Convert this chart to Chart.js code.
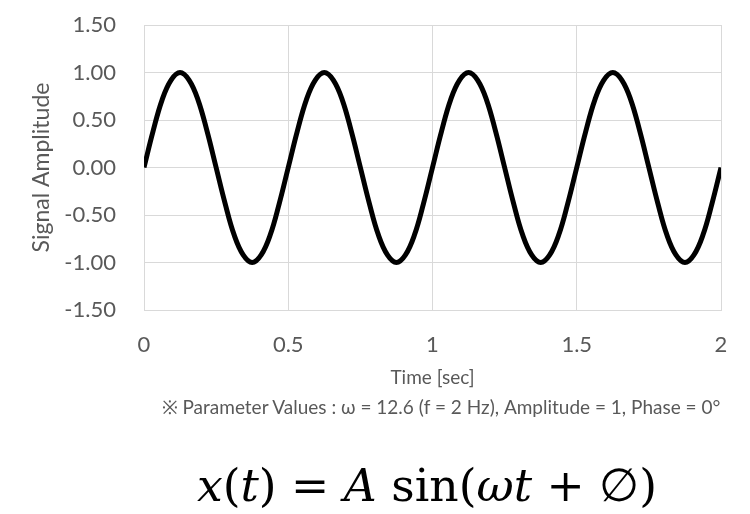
<!DOCTYPE html>
<html>
<head>
<meta charset="utf-8">
<script src="https://cdn.jsdelivr.net/npm/chart.js@4.4.0/dist/chart.umd.min.js"></script>
<style>
  html, body { margin: 0; padding: 0; background: #fff; }
  #wrap { position: relative; width: 750px; height: 514px; }
  #note {
    position: absolute; left: 0; width: 882px; top: 396px; text-align: center;
    font-family: Lato, "Open Sans", sans-serif; font-size: 19px; color: #595959;
    white-space: nowrap; line-height: 1.2;
  }
  #formula {
    position: absolute; left: 0; width: 854px; top: 461px; text-align: center;
    font-family: "DejaVu Serif", serif; font-size: 46px; color: #000;
    white-space: nowrap; line-height: 1;
  }
  #formula i { font-style: italic; }
</style>
</head>
<body>
<div id="wrap">
  <canvas id="myChart" width="750" height="514"></canvas>
  <div id="note">※ Parameter Values : ω = 12.6 (f = 2 Hz), Amplitude = 1, Phase = 0°</div>
  <div id="formula"><span id="fx"><i>x</i>(<i>t</i>) = <i>A</i> sin(<i>ωt</i> + ∅)</span></div>
</div>
<script>
// time samples [sec], read every 1/32 s
var timeValues = [
  0, 0.03125, 0.0625, 0.09375, 0.125, 0.15625, 0.1875, 0.21875,
  0.25, 0.28125, 0.3125, 0.34375, 0.375, 0.40625, 0.4375, 0.46875,
  0.5, 0.53125, 0.5625, 0.59375, 0.625, 0.65625, 0.6875, 0.71875,
  0.75, 0.78125, 0.8125, 0.84375, 0.875, 0.90625, 0.9375, 0.96875,
  1, 1.03125, 1.0625, 1.09375, 1.125, 1.15625, 1.1875, 1.21875,
  1.25, 1.28125, 1.3125, 1.34375, 1.375, 1.40625, 1.4375, 1.46875,
  1.5, 1.53125, 1.5625, 1.59375, 1.625, 1.65625, 1.6875, 1.71875,
  1.75, 1.78125, 1.8125, 1.84375, 1.875, 1.90625, 1.9375, 1.96875,
  2
];
var amplitudeValues = [
  0, 0.38, 0.71, 0.92, 1.00, 0.92, 0.71, 0.38,
  0, -0.38, -0.71, -0.92, -1.00, -0.92, -0.71, -0.38,
  0, 0.38, 0.71, 0.92, 1.00, 0.92, 0.71, 0.38,
  0, -0.38, -0.71, -0.92, -1.00, -0.92, -0.71, -0.38,
  0, 0.38, 0.71, 0.92, 1.00, 0.92, 0.71, 0.38,
  0, -0.38, -0.71, -0.92, -1.00, -0.92, -0.71, -0.38,
  0, 0.38, 0.71, 0.92, 1.00, 0.92, 0.71, 0.38,
  0, -0.38, -0.71, -0.92, -1.00, -0.92, -0.71, -0.38,
  0
];
var xTicks = [0, 0.5, 1, 1.5, 2];
var yTicks = [-1.5, -1, -0.5, 0, 0.5, 1, 1.5];

var points = timeValues.map(function (t, i) { return { x: t, y: amplitudeValues[i] }; });
var gridColor = "#d9d9d9";
var textColor = "#595959";

// fit the formula to its width in the reference (about 460px)
var fx = document.getElementById("fx");
var fbox = document.getElementById("formula");
var fsize = 46 * 460 / fx.getBoundingClientRect().width;
fbox.style.fontSize = fsize + "px";
fbox.style.top = (502 - 0.846 * fsize) + "px";

new Chart("myChart", {
  type: "line",
  data: {
    datasets: [{
      data: points,
      borderColor: "#000",
      borderWidth: 5,
      pointRadius: 0,
      tension: 0.4,
      fill: false
    }]
  },
  options: {
    responsive: false,
    animation: false,
    layout: { padding: { left: 20, top: 25, right: 29, bottom: 124 } },
    plugins: { legend: { display: false }, tooltip: { enabled: false } },
    scales: {
      x: {
        type: "linear",
        min: 0, max: 2,
        afterBuildTicks: function (s) { s.ticks = xTicks.map(function (v) { return { value: v }; }); },
        afterFit: function (s) { s.height = 80; },
        grid: { color: gridColor, drawTicks: false },
        border: { color: gridColor },
        ticks: { color: textColor, padding: 22, font: { family: "Lato", size: 22 },
                 callback: function (v) { return String(v); } },
        title: { display: true, text: "Time [sec]", color: textColor,
                 font: { family: "Lato", size: 19 }, padding: { top: 1, bottom: 1 } }
      },
      y: {
        min: -1.5, max: 1.5,
        afterBuildTicks: function (s) { s.ticks = yTicks.map(function (v) { return { value: v }; }); },
        afterFit: function (s) { s.width = 124; s.paddingTop = 0; s.paddingBottom = 0; },
        grid: { color: gridColor, drawTicks: false },
        border: { color: gridColor },
        ticks: { color: textColor, padding: 28, font: { family: "Lato", size: 22 },
                 callback: function (v) { return Number(v).toFixed(2); } },
        title: { display: true, text: "Signal Amplitude", color: textColor,
                 font: { family: "Lato", size: 23 }, padding: { top: 8, bottom: 0 } }
      }
    }
  }
});
</script>
</body>
</html>
